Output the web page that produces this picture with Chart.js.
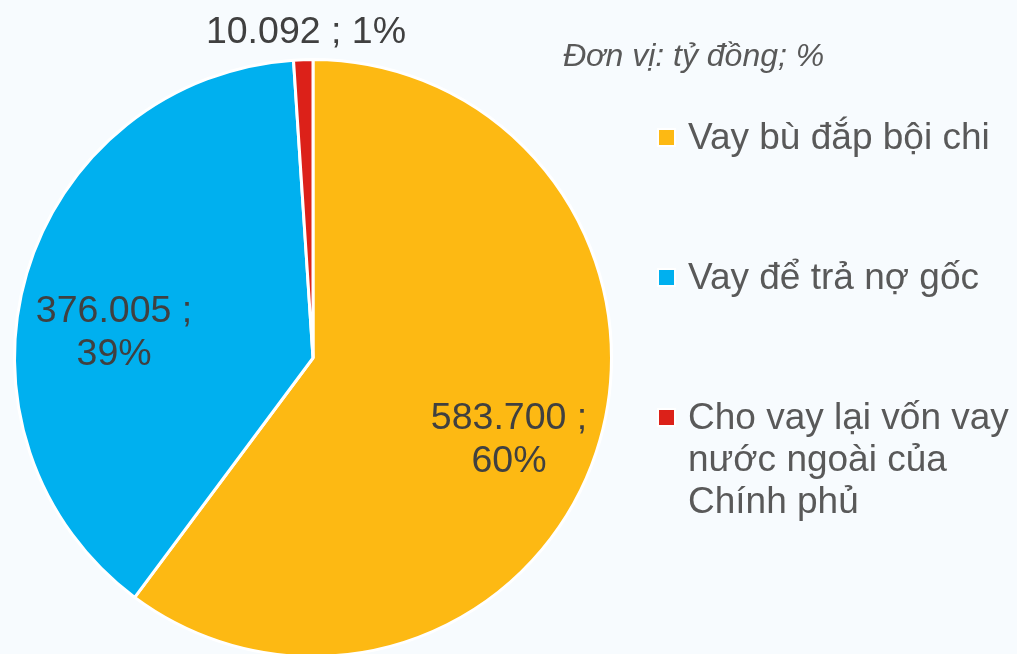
<!DOCTYPE html>
<html>
<head>
<meta charset="utf-8">
<script src="https://cdn.jsdelivr.net/npm/chart.js@4.4.1/dist/chart.umd.min.js"></script>
<style>
    html, body { margin: 0; padding: 0; background: #f7fbfe; overflow: hidden; }
    #wrap { position: relative; width: 1017px; height: 654px; overflow: hidden; font-family: "Liberation Sans", Arial, sans-serif; }
    #chartBox { position: absolute; left: 0; top: 0; width: 1017px; height: 700px; }
    #unit { position: absolute; left: 563px; top: 37px; font-size: 32px; font-style: italic; color: #595959; line-height: 36px; white-space: nowrap; }
    .leg { position: absolute; left: 657px; width: 360px; font-size: 37px; line-height: 42px; color: #595959; }
    .leg .sw { position: absolute; left: 0; width: 15px; height: 15px; border: 2px solid #fff; }
    .leg .tx { position: absolute; left: 31px; top: 0; width: 329px; }
</style>
</head>
<body>
<div id="wrap">
    <div id="chartBox"><canvas id="pie"></canvas></div>
    <div id="unit">Đơn vị: tỷ đồng; %</div>
    <div id="legend"></div>
</div>
<script>
const categories = ['Vay bù đắp bội chi', 'Vay để trả nợ gốc', 'Cho vay lại vốn vay nước ngoài của Chính phủ'];
const amounts = [583700, 376005, 10092];
const colors = ['#fdb913', '#00b0ef', '#dc2119'];

// label placement per slice: angle shift (deg) from slice middle, radius fraction, 2 lines or not
const labelPlace = [
    { dAng: 3.6, rf: 0.708, split: true },
    { dAng: -8.5, rf: 0.673, split: true },
    { dAng: 0.65, rf: 1.101, split: false }
];

const total = amounts.reduce((a, b) => a + b, 0);
function fmt(v) {
    return String(v).replace(/\B(?=(\d{3})+(?!\d))/g, '.');
}

const labelPlugin = {
    id: 'sliceLabels',
    afterDatasetsDraw(chart) {
        const ctx = chart.ctx;
        const meta = chart.getDatasetMeta(0);
        ctx.save();
        ctx.font = '37.5px "Liberation Sans", Arial, sans-serif';
        ctx.fillStyle = '#404040';
        ctx.textAlign = 'center';
        ctx.textBaseline = 'alphabetic';
        meta.data.forEach((arc, i) => {
            const p = arc.getProps(['x', 'y', 'startAngle', 'endAngle', 'outerRadius'], true);
            const pl = labelPlace[i];
            const a = (p.startAngle + p.endAngle) / 2 + pl.dAng * Math.PI / 180;
            const r = p.outerRadius * pl.rf;
            const cx = p.x + Math.cos(a) * r;
            const cy = p.y + Math.sin(a) * r;
            const pct = Math.round(amounts[i] / total * 100) + '%';
            const off = 13.4;
            if (pl.split) {
                ctx.fillText(fmt(amounts[i]) + ' ;', cx, cy - 21.5 + off);
                ctx.fillText(pct, cx, cy + 21.5 + off);
            } else {
                ctx.fillText(fmt(amounts[i]) + ' ; ' + pct, cx, cy + off);
            }
        });
        ctx.restore();
    }
};

new Chart(document.getElementById('pie'), {
    type: 'pie',
    data: {
        labels: categories,
        datasets: [{
            data: amounts,
            backgroundColor: colors,
            borderColor: '#ffffff',
            borderWidth: 3
        }]
    },
    options: {
        responsive: true,
        maintainAspectRatio: false,
        animation: false,
        layout: { padding: { left: 13, right: 404, top: 58, bottom: 42 } },
        plugins: {
            legend: { display: false },
            tooltip: { enabled: false }
        }
    },
    plugins: [labelPlugin]
});

// legend
const legendTops = [116, 256, 396];
const legend = document.getElementById('legend');
categories.forEach((c, i) => {
    const d = document.createElement('div');
    d.className = 'leg';
    d.style.top = legendTops[i] + 'px';
    d.innerHTML = '<div class="sw" style="background:' + colors[i] + ';top:12px"></div><div class="tx">' + c + '</div>';
    legend.appendChild(d);
});
</script>
</body>
</html>
